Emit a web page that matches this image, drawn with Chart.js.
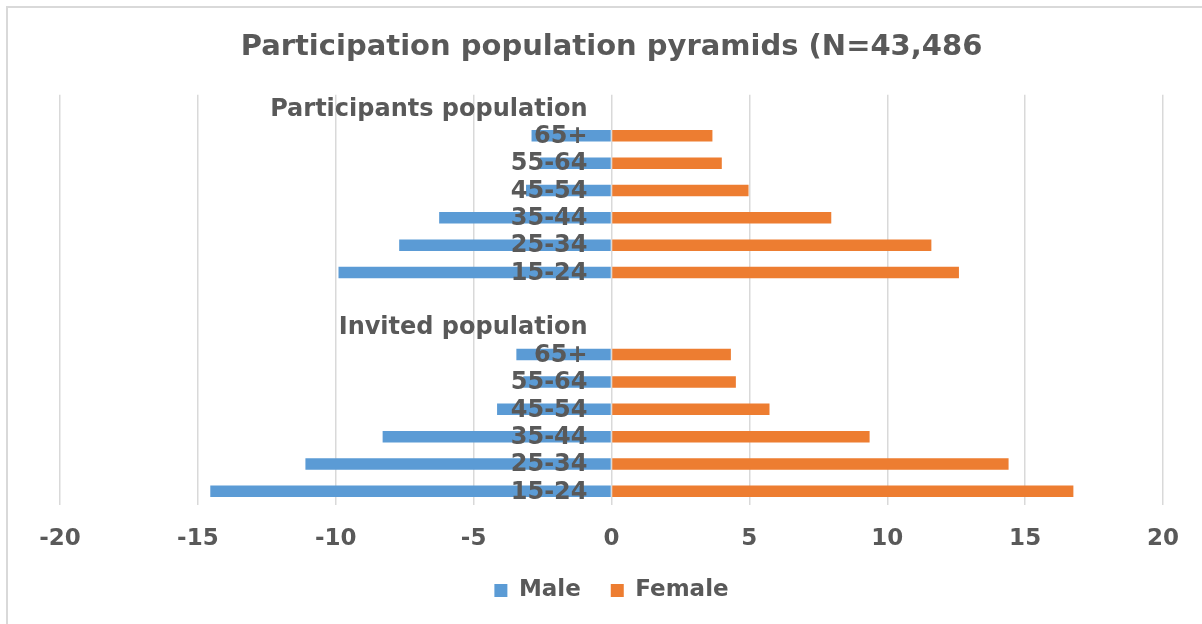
<!DOCTYPE html>
<html>
<head>
<meta charset="utf-8">
<script src="https://cdn.jsdelivr.net/npm/chart.js@4/dist/chart.umd.min.js"></script>
<style>
  html, body { margin: 0; padding: 0; background: #ffffff; }
  #wrap { width: 1202px; height: 624px; position: relative; }
</style>
</head>
<body>
<div id="wrap"><canvas id="pyramid" width="1202" height="624"></canvas></div>
<script>
// Row labels, top to bottom: two blocks (participants, invited) separated by an empty row
const categories = [
  'Participants population', '65+', '55-64', '45-54', '35-44', '25-34', '15-24',
  '',
  'Invited population', '65+', '55-64', '45-54', '35-44', '25-34', '15-24'
];

// Percent of each population; males plotted to the left of zero
const maleValues = [
  null, -2.9, -2.6, -3.1, -6.25, -7.7, -9.9,
  null,
  null, -3.45, -3.2, -4.15, -8.3, -11.1, -14.55
];
const femaleValues = [
  null, 3.66, 4.0, 4.97, 7.97, 11.6, 12.6,
  null,
  null, 4.33, 4.51, 5.73, 9.36, 14.4, 16.75
];

const xTicks = [-20, -15, -10, -5, 0, 5, 10, 15, 20];

const titleText = 'Participation population pyramids (N=43,486';
const textGrey = '#595959';
const fontFamily = "'DejaVu Sans', Verdana, sans-serif";

// White page with the thin grey frame on the top and left edges
const framePlugin = {
  id: 'frame',
  beforeDraw(chart) {
    const ctx = chart.ctx;
    ctx.save();
    ctx.fillStyle = '#ffffff';
    ctx.fillRect(0, 0, chart.width, chart.height);
    ctx.strokeStyle = '#d9d9d9';
    ctx.lineWidth = 2;
    ctx.beginPath();
    ctx.moveTo(7, chart.height);
    ctx.lineTo(7, 7);
    ctx.lineTo(chart.width, 7);
    ctx.stroke();
    ctx.restore();
  }
};

// Row labels are written just left of the zero line, on top of the bars
const rowLabelPlugin = {
  id: 'rowLabels',
  afterDatasetsDraw(chart) {
    const ctx = chart.ctx;
    const xs = chart.scales.x;
    const ys = chart.scales.y;
    const xRight = xs.getPixelForValue(0) - 24;
    ctx.save();
    ctx.font = 'bold 24px ' + fontFamily;
    ctx.fillStyle = textGrey;
    ctx.textAlign = 'right';
    ctx.textBaseline = 'middle';
    categories.forEach((label, i) => {
      if (label) ctx.fillText(label, xRight, ys.getPixelForValue(i) + 1);
    });
    ctx.restore();
  }
};

new Chart(document.getElementById('pyramid'), {
  type: 'bar',
  data: {
    labels: categories,
    datasets: [
      {
        label: 'Male',
        data: maleValues,
        backgroundColor: '#5b9bd5',
        borderWidth: 0,
        categoryPercentage: 1,
        barPercentage: 0.42
      },
      {
        label: 'Female',
        data: femaleValues,
        backgroundColor: '#ed7d31',
        borderWidth: 0,
        categoryPercentage: 1,
        barPercentage: 0.42
      }
    ]
  },
  options: {
    indexAxis: 'y',
    responsive: false,
    animation: false,
    layout: { padding: { left: 60, right: 39, top: 0, bottom: 12 } },
    scales: {
      x: {
        type: 'linear',
        min: -20,
        max: 20,
        afterBuildTicks(scale) {
          scale.ticks = xTicks.map(v => ({ value: v }));
        },
        afterFit(scale) { scale.height = 44; },
        grid: {
          color: '#d9d9d9',
          lineWidth: 1.5,
          drawTicks: false
        },
        border: { display: false },
        ticks: {
          padding: 20,
          color: textGrey,
          font: { family: fontFamily, size: 23, weight: 'bold' }
        }
      },
      y: {
        type: 'category',
        stacked: true,
        display: false
      }
    },
    plugins: {
      title: {
        display: true,
        text: titleText,
        color: textGrey,
        font: { family: fontFamily, size: 29, weight: 'bold' },
        padding: { top: 30, bottom: 30 }
      },
      legend: {
        display: true,
        position: 'bottom',
        labels: {
          color: textGrey,
          font: { family: fontFamily, size: 23, weight: 'bold' },
          boxWidth: 13,
          boxHeight: 13,
          padding: 30
        }
      },
      tooltip: { enabled: false }
    }
  },
  plugins: [framePlugin, rowLabelPlugin]
});
</script>
</body>
</html>
